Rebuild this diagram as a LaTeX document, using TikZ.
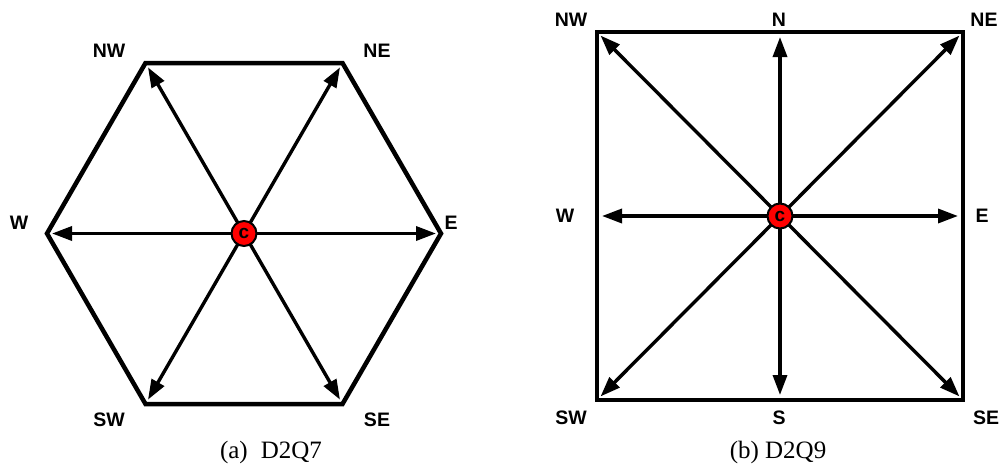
\documentclass[tikz,border=0pt]{standalone}
\usepackage{fontspec}
\setmainfont{Liberation Serif}
\setsansfont{Liberation Sans}
\usetikzlibrary{arrows.meta}
\begin{document}
\begin{tikzpicture}[x=1pt,y=-1pt,
 frame/.style={line width=4.5pt,line join=miter},
 vec/.style={line width=3.4pt,-{Triangle[length=20pt,width=14pt]},shorten >=5pt},
 lbl/.style={font=\sffamily\bfseries\fontsize{19.5}{19.5}\selectfont},
 ctr/.style={circle,fill=red,draw=black,line width=2pt,minimum size=25pt,inner sep=0pt,font=\sffamily\bfseries\fontsize{19}{19}\selectfont},
 capt/.style={font=\fontsize{25}{25}\selectfont}]
\useasboundingbox (0,0) rectangle (1005,474);
% ---- hexagon (D2Q7)
\coordinate (o1) at (244,233.5);
\coordinate (hE) at (441,233.5);
\coordinate (hW) at (47,233.5);
\coordinate (hNE) at (342.5,63);
\coordinate (hNW) at (145.5,63);
\coordinate (hSW) at (145.5,404);
\coordinate (hSE) at (342.5,404);
\draw[frame] (hE) -- (hNE) -- (hNW) -- (hW) -- (hSW) -- (hSE) -- cycle;
\foreach \v in {hE,hNE,hNW,hW,hSW,hSE} \draw[vec] (o1) -- (\v);
\node[ctr] (c1) at (o1) {c};
\node[lbl] (lNW1) at (109,51) {NW};
\node[lbl] (lNE1) at (377,51) {NE};
\node[lbl] (lW1) at (19,223) {W};
\node[lbl] (lE1) at (451,223) {E};
\node[lbl] (lSW1) at (109,420) {SW};
\node[lbl] (lSE1) at (377,420) {SE};
\node[capt] (cap1) at (271,452) {(a)\hspace{13pt}D2Q7};
% ---- square (D2Q9)
\coordinate (o2) at (780,216);
\coordinate (sNW) at (597,32);
\coordinate (sN) at (780,32);
\coordinate (sNE) at (963,32);
\coordinate (sE) at (963,216);
\coordinate (sSE) at (963,400);
\coordinate (sS) at (780,400);
\coordinate (sSW) at (597,400);
\coordinate (sW) at (597,216);
\draw[frame] (sNW) -- (sNE) -- (sSE) -- (sSW) -- cycle;
\foreach \v in {sNW,sN,sNE,sE,sSE,sS,sSW,sW} \draw[vec] (o2) -- (\v);
\node[ctr] (c2) at (o2) {c};
\node[lbl] (lNW2) at (571,20) {NW};
\node[lbl] (lN2) at (779,20) {N};
\node[lbl] (lNE2) at (984,20) {NE};
\node[lbl] (lW2) at (565,216) {W};
\node[lbl] (lE2) at (982,216) {E};
\node[lbl] (lSW2) at (571,418) {SW};
\node[lbl] (lS2) at (779,418) {S};
\node[lbl] (lSE2) at (986,418) {SE};
\node[capt] (cap2) at (778,452) {(b) D2Q9};
\end{tikzpicture}
\end{document}
